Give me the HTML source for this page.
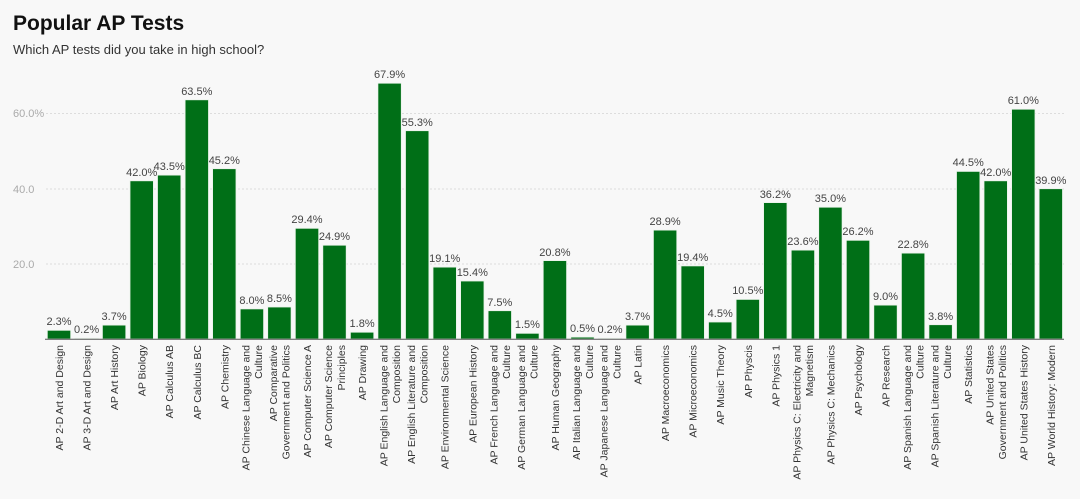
<!DOCTYPE html>
<html><head><meta charset="utf-8"><style>
body{margin:0;background:#f8f8f8;width:1080px;height:494px;overflow:hidden;font-family:"Liberation Sans",sans-serif}
</style></head><body>
<svg width="1080" height="494" xmlns="http://www.w3.org/2000/svg" font-family="Liberation Sans, sans-serif">
<rect width="1080" height="494" fill="#f8f8f8"/>
<text x="13" y="30" font-size="21" font-weight="bold" fill="#111">Popular AP Tests</text>
<text x="13" y="54" font-size="13" fill="#333">Which AP tests did you take in high school?</text>
<g stroke="#ddd" stroke-dasharray="2,2" stroke-width="1">
<line x1="46" y1="113.5" x2="1064" y2="113.5"/><line x1="46" y1="189" x2="1064" y2="189"/><line x1="46" y1="264" x2="1064" y2="264"/>
</g>
<g font-size="11" fill="#aaa"><text x="13" y="117">60.0%</text><text x="13" y="193">40.0</text><text x="13" y="268">20.0</text></g>
<g fill="#006f17" stroke="#eaf3ea" stroke-width="0.8">
<rect x="47.3" y="330.3" width="23.4" height="8.7"/>
<rect x="74.9" y="338.2" width="23.4" height="0.8"/>
<rect x="102.4" y="325.1" width="23.4" height="13.9"/>
<rect x="130.0" y="180.8" width="23.4" height="158.2"/>
<rect x="157.5" y="175.1" width="23.4" height="163.9"/>
<rect x="185.1" y="99.8" width="23.4" height="239.2"/>
<rect x="212.6" y="168.7" width="23.4" height="170.3"/>
<rect x="240.2" y="308.9" width="23.4" height="30.1"/>
<rect x="267.7" y="307.0" width="23.4" height="32.0"/>
<rect x="295.3" y="228.3" width="23.4" height="110.7"/>
<rect x="322.8" y="245.2" width="23.4" height="93.8"/>
<rect x="350.4" y="332.2" width="23.4" height="6.8"/>
<rect x="377.9" y="83.2" width="23.4" height="255.8"/>
<rect x="405.5" y="130.7" width="23.4" height="208.3"/>
<rect x="433.0" y="267.1" width="23.4" height="71.9"/>
<rect x="460.6" y="281.0" width="23.4" height="58.0"/>
<rect x="488.1" y="310.7" width="23.4" height="28.3"/>
<rect x="515.7" y="333.3" width="23.4" height="5.7"/>
<rect x="543.2" y="260.6" width="23.4" height="78.4"/>
<rect x="570.8" y="337.1" width="23.4" height="1.9"/>
<rect x="598.3" y="338.2" width="23.4" height="0.8"/>
<rect x="625.9" y="325.1" width="23.4" height="13.9"/>
<rect x="653.4" y="230.1" width="23.4" height="108.9"/>
<rect x="681.0" y="265.9" width="23.4" height="73.1"/>
<rect x="708.5" y="322.0" width="23.4" height="17.0"/>
<rect x="736.1" y="299.4" width="23.4" height="39.6"/>
<rect x="763.6" y="202.6" width="23.4" height="136.4"/>
<rect x="791.2" y="250.1" width="23.4" height="88.9"/>
<rect x="818.7" y="207.2" width="23.4" height="131.8"/>
<rect x="846.3" y="240.3" width="23.4" height="98.7"/>
<rect x="873.8" y="305.1" width="23.4" height="33.9"/>
<rect x="901.4" y="253.1" width="23.4" height="85.9"/>
<rect x="928.9" y="324.7" width="23.4" height="14.3"/>
<rect x="956.5" y="171.4" width="23.4" height="167.6"/>
<rect x="984.0" y="180.8" width="23.4" height="158.2"/>
<rect x="1011.6" y="109.2" width="23.4" height="229.8"/>
<rect x="1039.1" y="188.7" width="23.4" height="150.3"/>
</g>
<line x1="45" y1="339.3" x2="1064" y2="339.3" stroke="#555" stroke-width="1"/>
<g font-size="11" fill="#444" text-anchor="middle">
<text x="59.0" y="325">2.3%</text>
<text x="86.6" y="333">0.2%</text>
<text x="114.1" y="320">3.7%</text>
<text x="141.7" y="176">42.0%</text>
<text x="169.2" y="170">43.5%</text>
<text x="196.8" y="95">63.5%</text>
<text x="224.3" y="164">45.2%</text>
<text x="251.9" y="304">8.0%</text>
<text x="279.4" y="302">8.5%</text>
<text x="307.0" y="223">29.4%</text>
<text x="334.5" y="240">24.9%</text>
<text x="362.1" y="327">1.8%</text>
<text x="389.6" y="78">67.9%</text>
<text x="417.2" y="126">55.3%</text>
<text x="444.7" y="262">19.1%</text>
<text x="472.3" y="276">15.4%</text>
<text x="499.8" y="306">7.5%</text>
<text x="527.4" y="328">1.5%</text>
<text x="554.9" y="256">20.8%</text>
<text x="582.5" y="332">0.5%</text>
<text x="610.0" y="333">0.2%</text>
<text x="637.6" y="320">3.7%</text>
<text x="665.1" y="225">28.9%</text>
<text x="692.7" y="261">19.4%</text>
<text x="720.2" y="317">4.5%</text>
<text x="747.8" y="294">10.5%</text>
<text x="775.3" y="198">36.2%</text>
<text x="802.9" y="245">23.6%</text>
<text x="830.4" y="202">35.0%</text>
<text x="858.0" y="235">26.2%</text>
<text x="885.5" y="300">9.0%</text>
<text x="913.1" y="248">22.8%</text>
<text x="940.6" y="320">3.8%</text>
<text x="968.2" y="166">44.5%</text>
<text x="995.7" y="176">42.0%</text>
<text x="1023.3" y="104">61.0%</text>
<text x="1050.8" y="184">39.9%</text>
</g>
<g font-size="10.5" fill="#333" text-anchor="end">
<text transform="translate(63,345) rotate(-90)">AP 2-D Art and Design</text>
<text transform="translate(90.6,345) rotate(-90)">AP 3-D Art and Design</text>
<text transform="translate(118.1,345) rotate(-90)">AP Art History</text>
<text transform="translate(145.7,345) rotate(-90)">AP Biology</text>
<text transform="translate(173.2,345) rotate(-90)">AP Calculus AB</text>
<text transform="translate(200.8,345) rotate(-90)">AP Calculus BC</text>
<text transform="translate(228.3,345) rotate(-90)">AP Chemistry</text>
<text transform="translate(249.6,345) rotate(-90)">AP Chinese Language and</text>
<text transform="translate(262.2,345) rotate(-90)">Culture</text>
<text transform="translate(277.1,345) rotate(-90)">AP Comparative</text>
<text transform="translate(289.7,345) rotate(-90)">Government and Politics</text>
<text transform="translate(311.0,345) rotate(-90)">AP Computer Science A</text>
<text transform="translate(332.2,345) rotate(-90)">AP Computer Science</text>
<text transform="translate(344.8,345) rotate(-90)">Principles</text>
<text transform="translate(366.1,345) rotate(-90)">AP Drawing</text>
<text transform="translate(387.3,345) rotate(-90)">AP English Language and</text>
<text transform="translate(399.9,345) rotate(-90)">Composition</text>
<text transform="translate(414.9,345) rotate(-90)">AP English Literature and</text>
<text transform="translate(427.5,345) rotate(-90)">Composition</text>
<text transform="translate(448.7,345) rotate(-90)">AP Environmental Science</text>
<text transform="translate(476.3,345) rotate(-90)">AP European History</text>
<text transform="translate(497.5,345) rotate(-90)">AP French Language and</text>
<text transform="translate(510.1,345) rotate(-90)">Culture</text>
<text transform="translate(525.1,345) rotate(-90)">AP German Language and</text>
<text transform="translate(537.7,345) rotate(-90)">Culture</text>
<text transform="translate(558.9,345) rotate(-90)">AP Human Geography</text>
<text transform="translate(580.2,345) rotate(-90)">AP Italian Language and</text>
<text transform="translate(592.8,345) rotate(-90)">Culture</text>
<text transform="translate(607.7,345) rotate(-90)">AP Japanese Language and</text>
<text transform="translate(620.3,345) rotate(-90)">Culture</text>
<text transform="translate(641.6,345) rotate(-90)">AP Latin</text>
<text transform="translate(669.1,345) rotate(-90)">AP Macroeconomics</text>
<text transform="translate(696.7,345) rotate(-90)">AP Microeconomics</text>
<text transform="translate(724.2,345) rotate(-90)">AP Music Theory</text>
<text transform="translate(751.8,345) rotate(-90)">AP Physcis</text>
<text transform="translate(779.3,345) rotate(-90)">AP Physics 1</text>
<text transform="translate(800.6,345) rotate(-90)">AP Physics C: Electricity and</text>
<text transform="translate(813.2,345) rotate(-90)">Magnetism</text>
<text transform="translate(834.4,345) rotate(-90)">AP Physics C: Mechanics</text>
<text transform="translate(862.0,345) rotate(-90)">AP Psychology</text>
<text transform="translate(889.5,345) rotate(-90)">AP Research</text>
<text transform="translate(910.8,345) rotate(-90)">AP Spanish Language and</text>
<text transform="translate(923.4,345) rotate(-90)">Culture</text>
<text transform="translate(938.3,345) rotate(-90)">AP Spanish Literature and</text>
<text transform="translate(950.9,345) rotate(-90)">Culture</text>
<text transform="translate(972.2,345) rotate(-90)">AP Statistics</text>
<text transform="translate(993.4,345) rotate(-90)">AP United States</text>
<text transform="translate(1006.0,345) rotate(-90)">Government and Politics</text>
<text transform="translate(1027.3,345) rotate(-90)">AP United States History</text>
<text transform="translate(1054.8,345) rotate(-90)">AP World History: Modern</text>
</g>
</svg>
</body></html>
